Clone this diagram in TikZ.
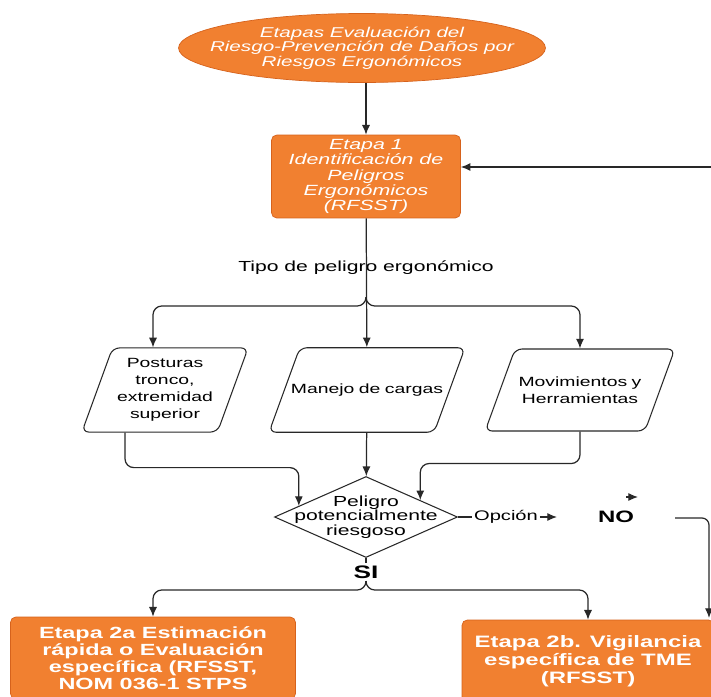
\documentclass[tikz,border=0pt]{standalone}
\usepackage{fontspec}
\setmainfont{Liberation Sans}
\newfontfamily\lucid[FakeStretch=1.45]{Liberation Sans}
\usetikzlibrary{shapes.geometric,calc,arrows.meta}
\definecolor{naranja}{RGB}{241,128,48}
\definecolor{naranjaBorde}{RGB}{214,98,28}
\definecolor{linea}{RGB}{40,40,40}

\tikzset{
  inicio/.style={ellipse, draw=naranjaBorde, fill=naranja, text=white, align=center,
    inner xsep=-18pt, inner ysep=0pt, minimum width=7.34cm, minimum height=1.38cm,
    font=\lucid\itshape\fontsize{8.1}{8.2}\selectfont},
  etapa/.style={rectangle, rounded corners=3pt, draw=naranjaBorde, fill=naranja,
    text=white, align=center, inner sep=0pt},
  peligro/.style={trapezium, trapezium left angle=70, trapezium right angle=110,
    draw=linea, line width=0.6pt, rounded corners=4pt,
    align=center, inner xsep=0pt,
    font=\lucid\fontsize{7.6}{9.7}\selectfont},
  decision/.style={diamond, draw=linea, line width=0.6pt, minimum width=3.66cm,
    minimum height=1.62cm, inner sep=0pt},
  etiqueta/.style={inner sep=1pt, align=center, font=\lucid\fontsize{8.3}{8.3}\selectfont},
  linea/.style={draw=linea, line width=0.7pt},
  conn/.style={-{Latex[length=5.5pt,width=4.6pt]}, draw=linea, line width=0.7pt}
}

\begin{document}
\begin{tikzpicture}[x=0.02cm, y=-0.02cm]
	\clip (0,0) rectangle (711,697);
	\fill[white] (0,0) rectangle (711,697);

	\node[inicio] (Inicio) at (362,48) {Etapas Evaluación del\\Riesgo-Prevención de Daños por\\Riesgos Ergonómicos};
	\node[etapa, minimum width=3.78cm, minimum height=1.66cm, font=\lucid\itshape\fontsize{8.4}{8.8}\selectfont] (Etapa1) at (366,176.5) {Etapa 1\\Identificación de\\Peligros\\Ergonómicos\\(RFSST)};
	\node[etiqueta] (TipoPeligro) at (366,268) {Tipo de peligro ergonómico};

	\node[peligro, text width=2.1cm, inner ysep=6pt] (Posturas) at (165,390) {Posturas\\tronco,\\extremidad\\superior};
	\node[peligro, text width=3.05cm, inner xsep=-0.18cm, inner ysep=20.5pt] (Manejo) at (367,390) {Manejo de cargas};
	\node[peligro, text width=2.6cm, inner ysep=15.7pt] (Movimientos) at (580,390) {Movimientos y\\Herramientas};

	\node[decision] (Decision) at (366,517) {};
	\node[etiqueta, font=\lucid\fontsize{8.3}{8.2}\selectfont] (DecisionTxt) at (Decision) {Peligro\\potencialmente\\riesgoso};
	\node[etiqueta, font=\lucid\fontsize{7.9}{8}\selectfont] (Opcion) at (506,517) {Opción};
	\node[etiqueta, font=\lucid\bfseries\fontsize{9.4}{9.4}\selectfont] (No) at (616,517) {NO};
	\node[etiqueta, font=\lucid\bfseries\fontsize{10.3}{10.3}\selectfont] (Si) at (366,572) {SI};

	\node[etapa, minimum width=5.7cm, minimum height=1.64cm, font=\lucid\bfseries\fontsize{9.2}{9.7}\selectfont] (Etapa2a) at (153,658) {Etapa 2a Estimación\\rápida o Evaluación\\específica (RFSST,\\NOM 036-1 STPS};
	\node[etapa, minimum width=5.04cm, minimum height=1.64cm, font=\lucid\bfseries\fontsize{9.4}{10.4}\selectfont] (Etapa2b) at (588,661) {Etapa 2b. Vigilancia\\específica de TME\\(RFSST)};

	% entrada y retorno
	\coordinate (Retorno) at (715,167);
	\draw[conn] (Etapa1.north |- Inicio.south) -- (Etapa1.north);
	\draw[conn] (Retorno) -- (Etapa1.east |- Retorno);

	% tipos de peligro
	\coordinate (Ramal1) at (366,298);
	\draw[conn] (Etapa1) -- (Manejo);
	\draw[conn, rounded corners=5pt] (Ramal1) -- ++(0,8) -| ([xshift=-0.24cm]Posturas.north);
	\draw[conn, rounded corners=5pt] (Ramal1) -- ++(0,8) -| (Movimientos.north);

	\draw[conn, rounded corners=5pt] ([xshift=-0.8cm]Posturas.south) -- ++(0,35) -| ($(Decision.west)!0.27!(Decision.north)$);
	\draw[conn] (Manejo) -- (Decision);
	\draw[conn, rounded corners=5pt] (Movimientos.south) -- ++(0,32) -| ($(Decision.north)!0.59!(Decision.east)$);

	% opcion NO
	\coordinate (FinOpcion) at (557,517);
	\coordinate (PuntaA) at (626,497);
	\coordinate (PuntaB) at (638,497);
	\coordinate (NoIni) at (675,518);
	\coordinate (NoFin) at (709,618);
	\draw[linea] (Decision.east) -- (Opcion.west);
	\draw[conn] (Opcion.east) -- (FinOpcion);
	\draw[conn] (PuntaA) -- (PuntaB);
	\draw[conn, rounded corners=4pt] (NoIni) -| (NoFin);

	% opcion SI
	\coordinate (Ramal2) at (366,584);
	\draw[linea] (Decision.south) -- (Si.north);
	\draw[linea] (Si.south) -- (Ramal2);
	\draw[conn, rounded corners=5pt] (Ramal2) -- ++(0,6) -| (Etapa2a.north);
	\draw[conn, rounded corners=5pt] (Ramal2) -- ++(0,6) -| (Etapa2b.north);
\end{tikzpicture}
\end{document}
